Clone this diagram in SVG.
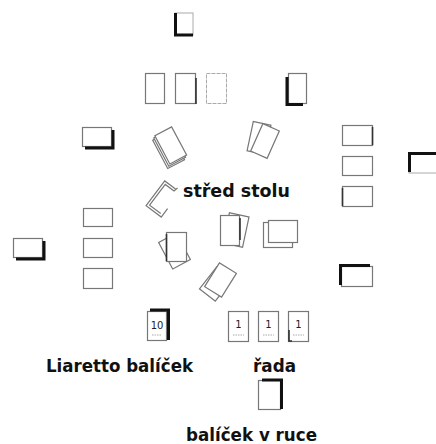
<svg xmlns="http://www.w3.org/2000/svg" width="436" height="444" viewBox="0 0 436 444">
<style>
.c{fill:#fff;stroke:#777;stroke-width:1.2}
.o{fill:none;stroke:#777;stroke-width:1.2}
.l{fill:#fff;stroke:#aaa;stroke-width:1}
.k{fill:none;stroke:#111;stroke-width:3}
.d{fill:none;stroke:#333;stroke-width:1.6}
.t{font-family:"DejaVu Sans","Liberation Sans",sans-serif;font-weight:bold;font-size:17px;fill:#111}
.n{font-family:"DejaVu Sans","Liberation Sans",sans-serif;font-size:10px;fill:#222;text-anchor:middle}
.m{fill:none;stroke:#aaa;stroke-width:1;stroke-dasharray:1.5 1}
</style>
<rect width="436" height="444" fill="#fff"/>

<g id="player-top">
<rect class="l" x="175" y="13" width="18" height="22"/>
<path class="k" d="M175.5,13 V35 H193"/>
</g>

<g id="top-row">
<rect class="c" x="145.5" y="73.5" width="19" height="30"/>
<rect class="c" x="175.5" y="73.5" width="20" height="30"/>
<path class="d" d="M196,78 V104"/>
<rect class="l" x="206.5" y="73.5" width="20" height="30" stroke-dasharray="4 1"/>
</g>

<g id="player-top-right">
<rect class="c" x="288.5" y="73.5" width="18" height="30"/>
<path class="k" d="M287,77 V104.5 H303"/>
</g>

<g id="player-left-top">
<rect class="c" x="82.5" y="127.5" width="29" height="19"/>
<path class="k" d="M113,130 V148 H85"/>
</g>

<g id="player-left">
<rect class="c" x="13.5" y="238.5" width="29" height="19"/>
<path class="k" d="M44,241 V259 H16"/>
</g>

<g id="left-column">
<rect class="c" x="83.5" y="208.5" width="29" height="18"/>
<rect class="c" x="83.5" y="238.5" width="29" height="19"/>
<rect class="c" x="83.5" y="268.5" width="29" height="20"/>
</g>

<g id="right-column">
<rect class="c" x="342.5" y="125.5" width="30" height="20"/>
<path class="d" d="M372.5,127 V145"/>
<rect class="c" x="342.5" y="156.5" width="30" height="19"/>
<rect class="c" x="342.5" y="186.5" width="30" height="20"/>
<path class="d" d="M342.5,188 V206"/>
</g>

<g id="player-right">
<rect class="l" x="409" y="153" width="30" height="20"/>
<path class="k" d="M409.5,172 V153.5 H436"/>
</g>

<g id="player-right-bottom">
<rect class="c" x="341.5" y="266.5" width="31" height="20"/>
<path class="k" d="M340.5,285 V265.5 H370"/>
</g>

<g id="deck-1" transform="translate(170.5,145) rotate(-28)">
<rect class="c" x="-13.5" y="-12.5" width="19" height="32"/>
<rect class="c" x="-11.5" y="-14" width="19" height="32"/>
<rect class="c" x="-9.5" y="-15.5" width="19" height="32"/>
</g>

<g id="deck-2">
<rect class="c" transform="translate(259,138) rotate(12)" x="-9" y="-15" width="18" height="30"/>
<rect class="c" transform="translate(265,141) rotate(24)" x="-9" y="-15" width="18" height="30"/>
</g>

<g id="deck-3" transform="translate(163,199) rotate(37)">
<path class="o" d="M4,-15.5 H-9.5 V15.5 H9.5 V5"/>
<path class="o" d="M5,-17.5 L4,-13 H-7 V13 H7"/>
</g>

<g id="deck-4">
<rect class="c" transform="translate(236,230) rotate(12)" x="-10" y="-15.5" width="20" height="31"/>
<rect class="c" x="220.5" y="215.5" width="19" height="30"/>
<path class="d" d="M240,218 V240"/>
</g>

<g id="deck-5">
<rect class="c" x="263.5" y="222.5" width="29" height="25"/>
<rect class="c" x="268.5" y="220.5" width="29" height="22"/>
</g>

<g id="deck-6">
<rect class="c" transform="translate(174.5,251) rotate(-28)" x="-10" y="-15" width="20" height="30"/>
<rect class="c" x="166.5" y="232.5" width="20" height="29"/>
<path class="d" d="M166.5,234 V261"/>
</g>

<g id="deck-7">
<rect class="c" transform="translate(216,284) rotate(38)" x="-10" y="-14" width="20" height="28"/>
<rect class="c" transform="translate(220.5,280) rotate(32)" x="-10" y="-14" width="20" height="28"/>
</g>

<text class="t" x="183" y="197" textLength="107" lengthAdjust="spacingAndGlyphs">střed stolu</text>

<g id="liaretto-deck">
<rect class="c" x="147.5" y="311.5" width="19" height="29"/>
<path class="k" d="M150,310 H168.5 V340"/>
<text class="n" x="157" y="329">10</text>
<path class="m" d="M152,335 H162"/>
</g>
<text class="t" x="46" y="372" textLength="147" lengthAdjust="spacingAndGlyphs">Liaretto balíček</text>

<g id="row">
<rect class="c" x="228.5" y="311.5" width="20" height="30"/>
<text class="n" x="238.5" y="328">1</text>
<path class="m" d="M233,335 H244"/>
<rect class="c" x="258.5" y="311.5" width="20" height="30"/>
<text class="n" x="268.5" y="328">1</text>
<path class="m" d="M263,335 H274"/>
<rect class="c" x="288.5" y="311.5" width="20" height="30"/>
<path class="d" d="M289,330 V341 H292"/>
<text class="n" x="298.5" y="328">1</text>
<path class="m" d="M293,335 H304"/>
</g>
<text class="t" x="253" y="372" textLength="43" lengthAdjust="spacingAndGlyphs">řada</text>

<g id="hand-deck">
<rect class="c" x="258.5" y="380.5" width="22" height="29"/>
<path class="k" d="M262,380 H281.5 V409"/>
</g>
<text class="t" x="186" y="441" textLength="131" lengthAdjust="spacingAndGlyphs">balíček v ruce</text>
</svg>
